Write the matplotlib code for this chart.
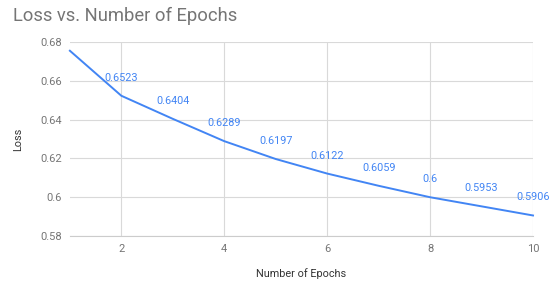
import matplotlib
matplotlib.use("Agg")
from matplotlib import pyplot as plt

# data
epochs = [1, 2, 3, 4, 5, 6, 7, 8, 9, 10]
loss = [0.6755, 0.6523, 0.6404, 0.6289, 0.6197, 0.6122, 0.6059, 0.6, 0.5953, 0.5906]
point_labels = ["", "0.6523", "0.6404", "0.6289", "0.6197", "0.6122", "0.6059", "0.6", "0.5953", "0.5906"]
x_ticks = [2, 4, 6, 8, 10]
y_ticks = [0.58, 0.6, 0.62, 0.64, 0.66, 0.68]
y_tick_labels = ["0.58", "0.6", "0.62", "0.64", "0.66", "0.68"]

BLUE = "#4285f4"
GRID = "#d9d9d9"

plt.rcParams["font.family"] = ["Roboto", "DejaVu Sans"]

fig = plt.figure(figsize=(5.59, 2.81), dpi=100)
ax = fig.add_axes([0.125, 0.16, 0.9535 - 0.125, 0.8505 - 0.16])

ax.plot(epochs, loss, color=BLUE, linewidth=1.4, clip_on=False, zorder=3)

for x, y, text in zip(epochs, loss, point_labels):
    if text:
        ax.annotate(text, (x, y), xytext=(0, 13), textcoords="offset points",
                    ha="center", va="center", color=BLUE, fontsize=7.8, zorder=4)

ax.set_xlim(1, 10)
ax.set_ylim(0.58, 0.68)
ax.set_xticks(x_ticks)
ax.set_yticks(y_ticks)
ax.set_yticklabels(y_tick_labels)
ax.grid(True, color=GRID, linewidth=0.8)
ax.set_axisbelow(True)
for side in ["top", "right", "left"]:
    ax.spines[side].set_visible(False)
ax.spines["bottom"].set_color("#cccccc")
ax.tick_params(length=0, colors="#757575", labelsize=8, pad=6)

ax.set_xlabel("Number of Epochs", fontsize=7.8, color="#333333", labelpad=10)
ax.set_ylabel("Loss", fontsize=7.8, color="#333333", labelpad=12)

fig.text(13 / 559, 1 - 16 / 281, "Loss vs. Number of Epochs", fontsize=13.2,
         color="#757575", ha="left", va="center")

fig.savefig("out.png", dpi=100, facecolor="white")
